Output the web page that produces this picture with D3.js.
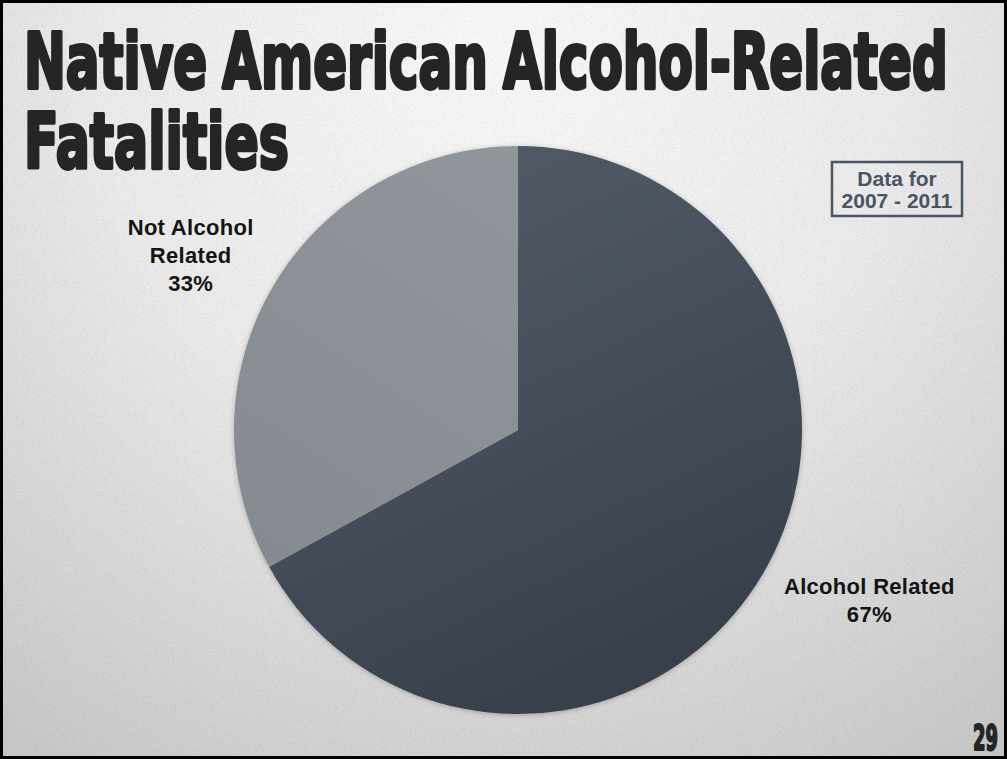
<!DOCTYPE html>
<html>
<head>
<meta charset="utf-8">
<script src="https://cdn.jsdelivr.net/npm/d3@7"></script>
<style>
  html, body { margin: 0; padding: 0; background: #fff; }
  svg { display: block; }
</style>
</head>
<body>
<svg id="chart" width="1007" height="759"></svg>
<script>
// Slide content
const titleLines = ["Native American Alcohol-Related", "Fatalities"];
const categories = ["Alcohol Related", "Not Alcohol Related"];
const shares = [67, 33];
const labelLines = [["Alcohol Related", "67%"], ["Not Alcohol", "Related", "33%"]];
const noteLines = ["Data for", "2007 - 2011"];
const pageNumber = "29";

const W = 1007, H = 759;
const svg = d3.select("#chart");
const defs = svg.append("defs");

// Paper background: soft radial vignette plus a fine grain
const bg = defs.append("radialGradient").attr("id", "bgGrad")
  .attr("gradientUnits", "userSpaceOnUse")
  .attr("cx", 500).attr("cy", 40).attr("r", 900);
bg.append("stop").attr("offset", "0").attr("stop-color", "#f8f8f8");
bg.append("stop").attr("offset", "0.45").attr("stop-color", "#ebebeb");
bg.append("stop").attr("offset", "1").attr("stop-color", "#c4c4c4");

const grain = defs.append("filter").attr("id", "grain")
  .attr("x", 0).attr("y", 0).attr("width", "100%").attr("height", "100%");
grain.append("feTurbulence").attr("type", "fractalNoise")
  .attr("baseFrequency", 0.9).attr("numOctaves", 2).attr("seed", 4).attr("result", "noise");
grain.append("feColorMatrix").attr("in", "noise").attr("type", "matrix")
  .attr("values", "0 0 0 0 0  0 0 0 0 0  0 0 0 0 0  0 0 0 -1.4 0.75")
  .attr("result", "dots");
grain.append("feComposite").attr("in", "dots").attr("in2", "SourceGraphic").attr("operator", "in");

svg.append("rect").attr("width", W).attr("height", H).attr("fill", "url(#bgGrad)");
svg.append("rect").attr("width", W).attr("height", H).attr("fill", "#8a8a8a")
  .attr("opacity", 0.12).attr("filter", "url(#grain)");

// Pie (gradient coordinates are relative to the pie centre)
const cx = 518, cy = 430, R = 284;

const darkGrad = defs.append("linearGradient").attr("id", "darkGrad")
  .attr("gradientUnits", "userSpaceOnUse")
  .attr("x1", -40).attr("y1", -R).attr("x2", R * 0.75).attr("y2", R * 0.9);
darkGrad.append("stop").attr("offset", "0").attr("stop-color", "#525a66");
darkGrad.append("stop").attr("offset", "0.45").attr("stop-color", "#454d59");
darkGrad.append("stop").attr("offset", "1").attr("stop-color", "#353d49");

const lightGrad = defs.append("linearGradient").attr("id", "lightGrad")
  .attr("gradientUnits", "userSpaceOnUse")
  .attr("x1", 0).attr("y1", -R).attr("x2", -R).attr("y2", R * 0.5);
lightGrad.append("stop").attr("offset", "0").attr("stop-color", "#91969d");
lightGrad.append("stop").attr("offset", "1").attr("stop-color", "#858a91");

const shadow = defs.append("filter").attr("id", "pieShadow")
  .attr("x", "-10%").attr("y", "-10%").attr("width", "120%").attr("height", "120%");
shadow.append("feDropShadow").attr("dx", 0).attr("dy", 1).attr("stdDeviation", 2.5)
  .attr("flood-color", "#000").attr("flood-opacity", 0.25);

const color = d3.scaleOrdinal().domain(categories).range(["url(#darkGrad)", "url(#lightGrad)"]);

const pie = d3.pie().sort(null).value(d => d.value);
const arcs = pie(categories.map((c, i) => ({ name: c, value: shares[i] })));
const arc = d3.arc().innerRadius(0).outerRadius(R);

const pieG = svg.append("g").attr("transform", `translate(${cx},${cy})`)
  .attr("filter", "url(#pieShadow)");
pieG.selectAll("path").data(arcs).enter().append("path")
  .attr("d", arc)
  .attr("fill", d => color(d.data.name));

// Slice labels, placed along each slice's mid-angle outside the pie
const labelArc = d3.arc().innerRadius(R * 1.38).outerRadius(R * 1.38);
const labelNudge = [[14, -22], [10, 33]];
const lineH = 28;
arcs.forEach((a, i) => {
  const [lx, ly] = labelArc.centroid(a);
  const lines = labelLines[i];
  const x0 = cx + lx + labelNudge[i][0];
  const y0 = cy + ly + labelNudge[i][1] - (lines.length - 1) * lineH / 2;
  const t = svg.append("text")
    .attr("font-family", "'Liberation Sans', Arial, sans-serif")
    .attr("font-weight", "bold")
    .attr("font-size", 22)
    .attr("letter-spacing", 0.3)
    .attr("fill", "#141414")
    .attr("text-anchor", "middle");
  lines.forEach((ln, j) => {
    t.append("tspan").attr("x", x0).attr("y", y0 + j * lineH).text(ln);
  });
});

// Heavy condensed text: draw at natural width, then squeeze horizontally
function condensed(str, x, baseline, width, size, sy, strokeW) {
  const g = svg.append("g");
  const t = g.append("text")
    .attr("x", 0).attr("y", 0)
    .attr("font-family", "'DejaVu Sans', sans-serif")
    .attr("font-weight", "bold")
    .attr("font-size", size)
    .attr("word-spacing", -3)
    .attr("fill", "#252525")
    .attr("stroke", "#252525")
    .attr("stroke-width", strokeW)
    .attr("stroke-linejoin", "round")
    .text(str);
  const natural = t.node().getComputedTextLength();
  g.attr("transform", `translate(${x},${baseline}) scale(${width / natural},${sy})`);
}

condensed(titleLines[0], 24, 88, 924, 64, 1.2, 3.2);
condensed(titleLines[1], 24, 168, 265, 64, 1.2, 3.2);

// Date-range note box
const box = { x: 832, y: 162, w: 130, h: 54 };
svg.append("rect")
  .attr("x", box.x).attr("y", box.y).attr("width", box.w).attr("height", box.h)
  .attr("fill", "none").attr("stroke", "#4a5563").attr("stroke-width", 2.5);
const note = svg.append("text")
  .attr("font-family", "'Liberation Sans', Arial, sans-serif")
  .attr("font-weight", "bold")
  .attr("font-size", 21)
  .attr("fill", "#4a5563")
  .attr("text-anchor", "middle");
noteLines.forEach((ln, j) => {
  note.append("tspan").attr("x", box.x + box.w / 2).attr("y", box.y + 24 + j * 22).text(ln);
});

// Page number
condensed(pageNumber, 973, 750, 25, 30, 1.2, 1.8);

// Slide frame
svg.append("rect").attr("x", 1.5).attr("y", 1.5).attr("width", W - 3).attr("height", H - 3)
  .attr("fill", "none").attr("stroke", "#000").attr("stroke-width", 3);
</script>
</body>
</html>
